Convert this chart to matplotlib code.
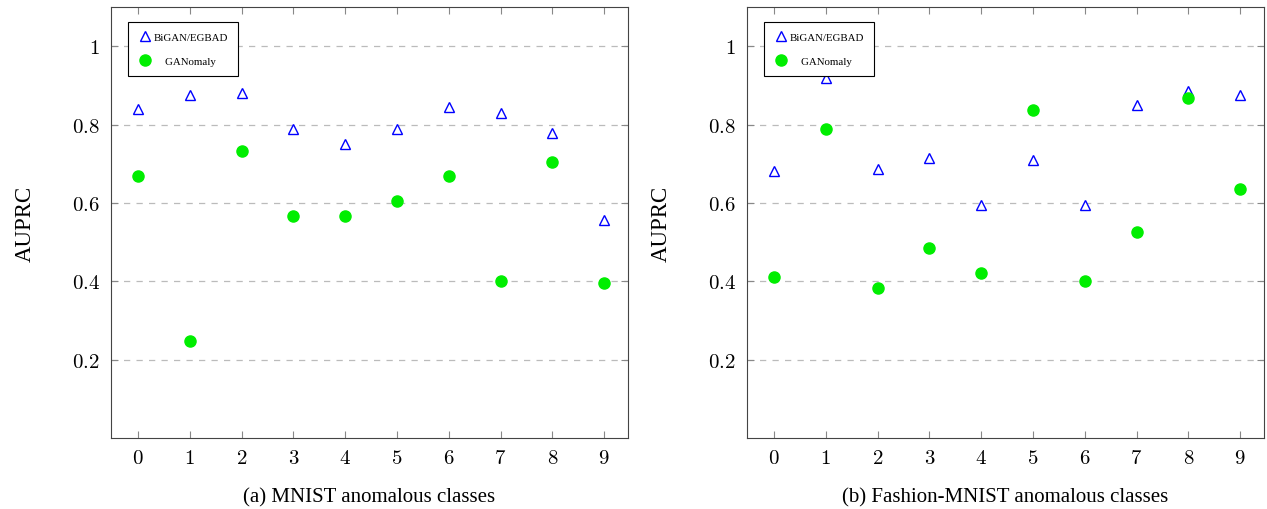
import matplotlib.pyplot as plt
from matplotlib.ticker import FixedLocator

plt.rcParams['mathtext.fontset'] = 'cm'
plt.rcParams['font.family'] = ['Liberation Serif', 'DejaVu Serif']

classes = [0, 1, 2, 3, 4, 5, 6, 7, 8, 9]

mnist_bigan = [0.839, 0.875, 0.880, 0.790, 0.750, 0.790, 0.845, 0.830, 0.780, 0.558]
mnist_ganomaly = [0.668, 0.249, 0.732, 0.568, 0.568, 0.604, 0.670, 0.402, 0.704, 0.397]

fashion_bigan = [0.683, 0.920, 0.686, 0.714, 0.596, 0.709, 0.596, 0.850, 0.885, 0.877]
fashion_ganomaly = [0.410, 0.788, 0.384, 0.484, 0.422, 0.837, 0.402, 0.527, 0.867, 0.635]

captions = ['(a) MNIST anomalous classes', '(b) Fashion-MNIST anomalous classes']
yticks = [0.2, 0.4, 0.6, 0.8, 1.0]
ytick_labels = ['$0.2$', '$0.4$', '$0.6$', '$0.8$', '$1$']

fig = plt.figure(figsize=(12.67, 5.1), dpi=100)
ax_left = fig.add_axes([0.0876, 0.139, 0.408, 0.845])
ax_right = fig.add_axes([0.5896, 0.139, 0.408, 0.845])

for ax, bigan, gano, cap in [(ax_left, mnist_bigan, mnist_ganomaly, captions[0]),
                             (ax_right, fashion_bigan, fashion_ganomaly, captions[1])]:
    ax.plot(classes, bigan, linestyle='none', marker='^', markersize=7,
            markerfacecolor='white', markeredgecolor='blue', markeredgewidth=1.0,
            label='BiGAN/EGBAD', zorder=3)
    ax.plot(classes, gano, linestyle='none', marker='o', markersize=8,
            color='#00ee00', markeredgecolor='#00ee00', label='    GANomaly', zorder=3)
    ax.set_xlim(-0.52, 9.46)
    ax.set_ylim(0.0, 1.1)
    ax.xaxis.set_major_locator(FixedLocator(classes))
    ax.set_xticklabels(['$%d$' % c for c in classes])
    ax.yaxis.set_major_locator(FixedLocator(yticks))
    ax.set_yticklabels(ytick_labels)
    ax.tick_params(direction='in', top=True, right=True, length=5, color='#888888',
                   labelsize=15, pad=8)
    ax.grid(axis='y', linestyle=(0, (5, 5)), color='#bbbbbb', linewidth=0.9)
    for s in ax.spines.values():
        s.set_color('#444444')
        s.set_linewidth(0.8)
    ax.set_ylabel('AUPRC', fontsize=16.5, labelpad=26)
    ax.set_xlabel(cap, fontsize=15, labelpad=14)
    leg = ax.legend(loc='upper left', bbox_to_anchor=(0.023, 0.978), fontsize=7.8,
                    fancybox=False, edgecolor='black', framealpha=1,
                    borderpad=0.95, labelspacing=1.3, handletextpad=0.2,
                    handlelength=1.2)
    leg.get_frame().set_linewidth(0.8)

plt.savefig('out.png', dpi=100)
